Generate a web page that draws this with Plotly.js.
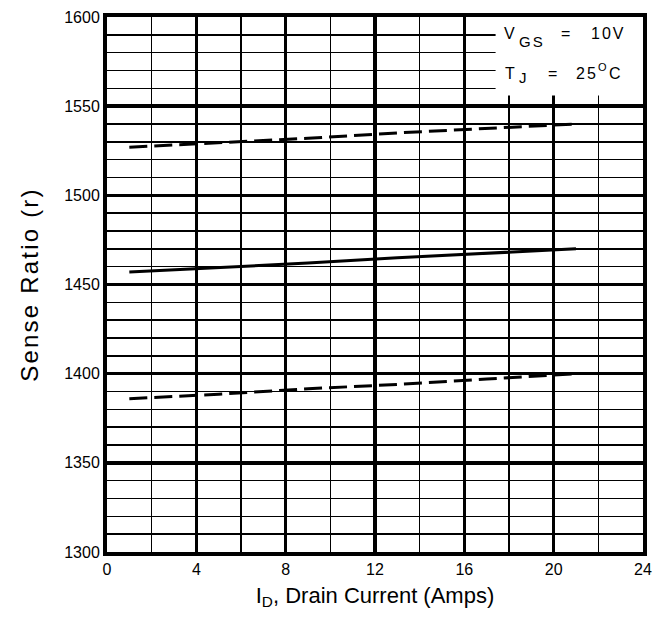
<!DOCTYPE html>
<html>
<head>
<meta charset="utf-8">
<script src="https://cdn.plot.ly/plotly-3.0.1.min.js"></script>
<style>html,body{margin:0;padding:0;background:#fff;}#chart{width:663px;height:626px;}
.ytitle{letter-spacing:2.2px;}
.annotation-text{letter-spacing:2px;}</style>
</head>
<body>
<div id="chart"></div>
<script>
const drainCurrent = [1, 5, 9, 13, 17, 21];
const upperLimit = [1527, 1529.5, 1532, 1535, 1537.5, 1540];
const typical = [1457, 1459.5, 1462, 1465, 1467.5, 1470];
const lowerLimit = [1386, 1388.5, 1391.5, 1394, 1397, 1400];
const xTicks = [0, 4, 8, 12, 16, 20, 24];
const yTicks = [1300, 1350, 1400, 1450, 1500, 1550, 1600];

const font = "Liberation Sans, Arial, sans-serif";
const tickFont = "Liberation Sans Narrow, Arial Narrow, Liberation Sans, sans-serif";
const traces = [
  {x: drainCurrent, y: upperLimit, mode: 'lines', line: {color: '#000', width: 3, dash: '18px,7px'}, hoverinfo: 'skip'},
  {x: drainCurrent, y: typical, mode: 'lines', line: {color: '#000', width: 3}, hoverinfo: 'skip'},
  {x: drainCurrent, y: lowerLimit, mode: 'lines', line: {color: '#000', width: 3, dash: '18px,7px'}, hoverinfo: 'skip'}
];
function note(text, x, y, size) {
  return {xref: 'x', yref: 'y', x: x, y: y, xanchor: 'left', yanchor: 'middle', showarrow: false,
          text: text, borderpad: 0, font: {size: size, family: font, color: '#000'}};
}
const layout = {
  width: 663, height: 626,
  margin: {l: 107, r: 20, t: 17, b: 74},
  paper_bgcolor: '#fff', plot_bgcolor: '#fff',
  showlegend: false,
  font: {family: font, color: '#000'},
  xaxis: {
    range: [0, 24], tickvals: xTicks, ticktext: xTicks.map(String),
    showgrid: true, gridcolor: '#000', gridwidth: 3.5,
    minor: {dtick: 2, showgrid: true, gridcolor: '#000', gridwidth: 1.5},
    showline: true, linecolor: '#000', linewidth: 4, mirror: true,
    zeroline: false, ticks: '', tickfont: {size: 16, family: tickFont},
    title: {text: 'I<sub>D</sub>, Drain Current (Amps)', font: {size: 22, family: font}, standoff: 11}
  },
  yaxis: {
    range: [1300, 1600], tickvals: yTicks, ticktext: yTicks.map(String),
    showgrid: true, gridcolor: '#000', gridwidth: 3.5,
    minor: {dtick: 10, showgrid: true, gridcolor: '#000', gridwidth: 1.5},
    showline: true, linecolor: '#000', linewidth: 4, mirror: true,
    zeroline: false, ticks: '', tickfont: {size: 16, family: tickFont},
    title: {text: 'Sense Ratio (r)', font: {size: 24, family: font}, standoff: 20}
  },
  shapes: [
    {type: 'rect', xref: 'x', yref: 'y', x0: 17.4, x1: 24, y0: 1556, y1: 1600,
     fillcolor: '#fff', line: {width: 0}, layer: 'between'}
  ],
  annotations: [
    note('V', 17.73, 1590.5, 16),
    note('GS', 18.41, 1586, 15),
    note('=', 20.29, 1590.5, 16),
    note('10V', 21.63, 1590.5, 16),
    note('T', 17.78, 1568.6, 16),
    note('J', 18.41, 1565.8, 15),
    note('=', 19.70, 1568.6, 16),
    note('25', 20.96, 1568.6, 16),
    note('O', 21.94, 1571.7, 11),
    note('C', 22.44, 1568.6, 16)
  ]
};
Plotly.newPlot('chart', traces, layout, {displayModeBar: false, staticPlot: true});
</script>
</body>
</html>
